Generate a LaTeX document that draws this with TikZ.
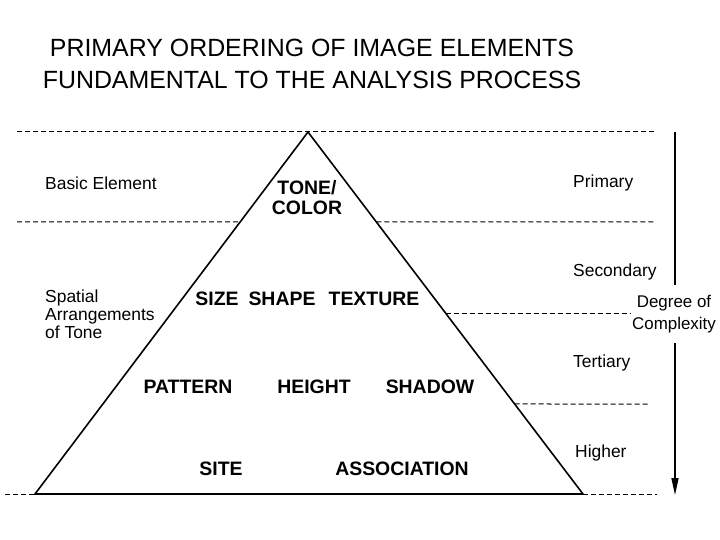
\documentclass[tikz,border=0pt]{standalone}
\usepackage{fontspec}
\setmainfont{Liberation Sans}
\usetikzlibrary{calc,arrows.meta}
\begin{document}
\begin{tikzpicture}[x=1bp,y=-1bp,
		guide/.style={dash pattern=on 5bp off 3bp, line width=1bp},
		lvl/.style={font=\bfseries\fontsize{19.5}{20}\selectfont, align=center, inner sep=0pt},
		lbl/.style={font=\fontsize{17.5}{18}\selectfont, align=left, anchor=west, inner sep=0pt},
		ttl/.style={font=\fontsize{25}{28}\selectfont, inner sep=0pt}]
			\useasboundingbox (0,0) rectangle (720,540);
			\node[ttl] (T1) at (312, 48) {PRIMARY ORDERING OF IMAGE ELEMENTS};
			\node[ttl] (T2) at (312, 80) {FUNDAMENTAL TO THE ANALYSIS PROCESS};
			\coordinate (A) at (308, 132);
			\coordinate (BL) at (35, 494);
			\coordinate (BR) at (583, 494);
			\coordinate (L1) at ($(A)!{90/362}!(BL)$);
			\coordinate (R1) at ($(A)!{90/362}!(BR)$);
			\coordinate (R2) at ($(A)!{181/362}!(BR)$);
			\coordinate (R3) at ($(A)!{272/362}!(BR)$);
			\coordinate (G0a) at (17, 132);
			\coordinate (G0b) at (655, 132);
			\coordinate (G1a) at (17, 222);
			\coordinate (G1b) at (655, 222);
			\coordinate (G2) at (630, 313);
			\coordinate (G3) at (650, 404);
			\coordinate (G4a) at (5, 494);
			\coordinate (G4b) at (657, 494);
			\draw[line width=1.6bp, line join=miter] (A) -- (BL) -- (BR) -- cycle;
			\draw[guide] (G0a) -- (G0b);
			\draw[guide] (G1a) -- (L1);
			\draw[guide] (R1) -- (G1b);
			\draw[guide] (R2) -- (G2);
			\draw[guide] (R3) -- (G3);
			\draw[guide] (G4a) -- (BL);
			\draw[guide] (BR) -- (G4b);
			\node[lvl] (TC) at (307, 198) {TONE/\\COLOR};
			\node[lvl] (SZ) at (217, 299) {SIZE};
			\node[lvl] (SH) at (282, 299) {SHAPE};
			\node[lvl] (TX) at (374, 299) {TEXTURE};
			\node[lvl] (PT) at (188, 387) {PATTERN};
			\node[lvl] (HG) at (314, 387) {HEIGHT};
			\node[lvl] (SD) at (430, 387) {SHADOW};
			\node[lvl] (ST) at (221, 469) {SITE};
			\node[lvl] (AS) at (402, 469) {ASSOCIATION};
			\node[lbl] (BE) at (45, 183) {Basic Element};
			\node[lbl] (SA) at (45, 314) {Spatial\\Arrangements\\of Tone};
			\node[lbl] (PR) at (573, 183) {Primary};
			\node[lbl] (SE) at (573, 272) {Secondary};
			\node[lbl] (TE) at (573, 363) {Tertiary};
			\node[lbl] (HI) at (575, 453) {Higher};
			\node[font=\fontsize{17}{22}\selectfont, align=center, inner sep=0pt, minimum height=58bp] (DC) at (674, 314) {Degree of\\Complexity};
			\coordinate (D0) at (675, 132);
			\coordinate (D1) at (675, 495);
			\draw[line width=1.6bp] (D0) -- (D0 |- DC.north);
			\draw[line width=1.6bp, -{Triangle[length=17bp, width=7bp]}] (D1 |- DC.south) -- (D1);
		\end{tikzpicture}
\end{document}
